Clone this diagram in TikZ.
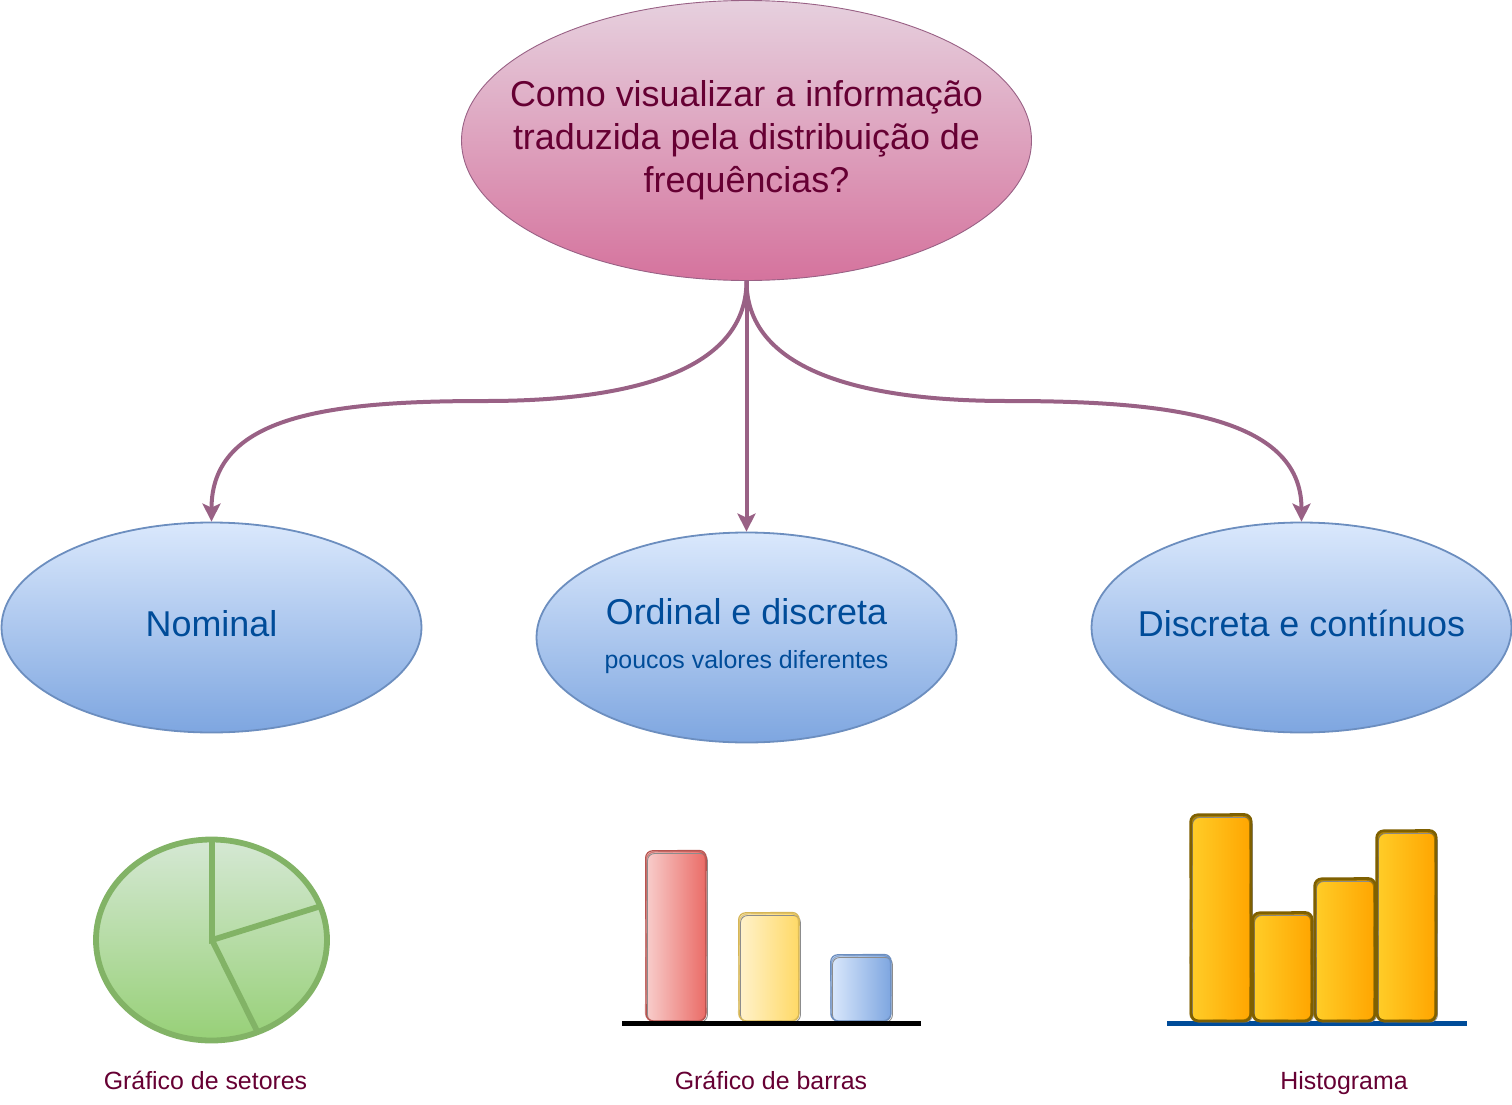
\documentclass[tikz,border=0pt]{standalone}
\usepackage{fontspec}
\setmainfont{Liberation Sans}
\usetikzlibrary{shapes.geometric,arrows.meta}
\definecolor{plum}{HTML}{996185}
\definecolor{wine}{HTML}{660033}
\definecolor{navy}{HTML}{004C99}
\definecolor{blueln}{HTML}{6C8EBF}
\definecolor{bluetop}{HTML}{DAE8FC}
\definecolor{bluebot}{HTML}{7EA6E0}
\definecolor{pinktop}{HTML}{E6D0DE}
\definecolor{pinkbot}{HTML}{D5739D}
\definecolor{greentop}{HTML}{D5E8D4}
\definecolor{greenbot}{HTML}{97D077}
\definecolor{greenln}{HTML}{82B366}
\definecolor{redl}{HTML}{F8CECC}
\definecolor{redr}{HTML}{EA6B66}
\definecolor{redln}{HTML}{B85450}
\definecolor{yell}{HTML}{FFF2CC}
\definecolor{yelr}{HTML}{FFD966}
\definecolor{yelln}{HTML}{D6B656}
\definecolor{orl}{HTML}{FFCD28}
\definecolor{orr}{HTML}{FFA500}
\definecolor{orln}{HTML}{7F6000}
\newcommand{\bigfs}{\fontsize{35.9}{43}\selectfont}
\newcommand{\smallfs}{\fontsize{24.9}{29}\selectfont}
\newcommand{\txtat}[2]{\makebox[0pt]{\raisebox{#1}[0pt][0pt]{#2}}}
\tikzset{
  x=1pt,y=-1pt,
  head/.style={ellipse,draw=plum,line width=.9pt,top color=pinktop,bottom color=pinkbot,
    minimum width=570pt,minimum height=280pt,inner sep=-60pt,align=center,text=wine,font=\bigfs},
  cat/.style={ellipse,draw=blueln,line width=1.8pt,top color=bluetop,bottom color=bluebot,
    minimum width=420pt,minimum height=210pt,inner sep=0pt,align=center,text=navy,font=\bigfs},
  link/.style={draw=plum,line width=4pt,-{Stealth[length=18pt,width=18pt,inset=4pt]}},
  captext/.style={text=wine,font=\smallfs,inner sep=0pt,anchor=base},
  pieline/.style={draw=greenln,line width=5.8pt},
  ghost/.style={rounded corners=7pt,draw=black!45,line width=.9pt},
}
% #1 left, #2 top, #3 right, #4 bottom, #5 left colour, #6 right colour, #7 line colour, #8 line width
\newcommand{\skbar}[8]{%
  \path[rounded corners=7pt,left color=#5,right color=#6] (#1,#2) rectangle (#3,#4);
  \draw[ghost] (#1+1.5,#2+2.5) rectangle (#3+1.4,#4+1);
  \draw[rounded corners=7pt,draw=#7,line width=#8] (#1-.4,#2-.2) -- (#3+.2,#2-.6) -- (#3-.3,#4+.2) -- (#1+.2,#4-.2) -- cycle;
  \draw[rounded corners=8pt,draw=#7,opacity=.65,line width=#8] (#1+.4,#2+1) -- (#3-.6,#2+.2) -- (#3+.2,#4-.4) -- (#1-.5,#4+.3) -- cycle;
}
\begin{document}
\begin{tikzpicture}
\useasboundingbox (0,0) rectangle (1512,1105);
\node[head] (q) at (746.5,140.5) {Como visualizar a informação\\traduzida pela distribuição de\\frequências?};
\node[cat] (nom) at (211.5,627.5) {\txtat{-8.5pt}{Nominal}};
\node[cat] (ord) at (746.5,637.5) {\txtat{13.5pt}{Ordinal e discreta}\txtat{-30.5pt}{\smallfs poucos valores diferentes}};
\node[cat] (dis) at (1301.5,627.5) {\txtat{-8.5pt}{Discreta e contínuos}};
\coordinate (ml) at (486,401);
\coordinate (mr) at (1007,401);
\draw[link] (q.south) .. controls (746.5,375) and (620,401) .. (ml) .. controls (330,401) and (211.5,415) .. (nom.north);
\draw[link] (q.south) -- (ord.north);
\draw[link] (q.south) .. controls (746.5,375) and (873,401) .. (mr) .. controls (1163,401) and (1301.5,415) .. (dis.north);
% pie
\coordinate (c) at (212,940);
\node[ellipse,draw=greenln,line width=5.8pt,top color=greentop,bottom color=greenbot,minimum width=231pt,minimum height=201pt,inner sep=0pt] (pie) at (211.5,940) {};
\coordinate (pa) at (212,841);
\coordinate (pb) at (318,907);
\coordinate (pc) at (257,1031);
\draw[pieline] (pa) -- (c) -- (pb);
\draw[pieline] (c) -- (pc);
% bars
\skbar{646}{851}{706}{1021}{redl}{redr}{redln}{1.2pt}
\skbar{739}{913}{799}{1021}{yell}{yelr}{yelln}{1.2pt}
\skbar{831}{955}{891}{1021}{bluetop}{bluebot}{blueln}{1.2pt}
\coordinate (ba) at (622,1023.5);
\coordinate (bb) at (921,1023.5);
\draw[black,line width=4.4pt] (ba) -- (bb);
% histogram
\coordinate (ha) at (1167,1023.5);
\coordinate (hb) at (1467,1023.5);
\draw[navy,line width=4.4pt] (ha) -- (hb);
\skbar{1191}{815}{1251}{1021}{orl}{orr}{orln}{2.6pt}
\skbar{1253}{913}{1312}{1021}{orl}{orr}{orln}{2.6pt}
\skbar{1315}{879}{1375}{1021}{orl}{orr}{orln}{2.6pt}
\skbar{1377}{831}{1436}{1021}{orl}{orr}{orln}{2.6pt}
% captions
\node[captext] (c1) at (205.5,1089) {Gráfico de setores};
\node[captext] (c2) at (771,1089) {Gráfico de barras};
\node[captext] (c3) at (1344,1089) {Histograma};
\end{tikzpicture}
\end{document}
